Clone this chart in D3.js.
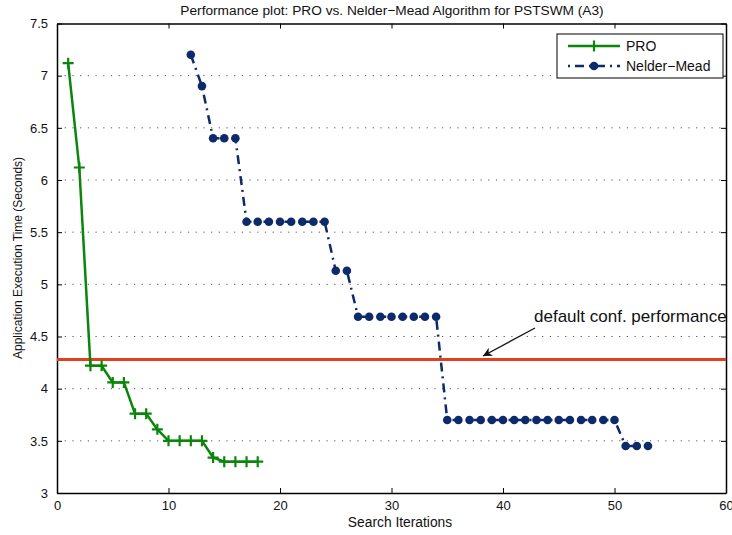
<!DOCTYPE html>
<html><head><meta charset="utf-8">
<script src="https://cdn.jsdelivr.net/npm/d3@7"></script>
<style>body{margin:0;background:#fff;} text{font-family:"Liberation Sans",Arial,sans-serif;}</style>
</head><body>
<svg id="c" width="732" height="535"></svg>
<script>
const proX = [1,2,3,4,5,6,7,8,9,10,11,12,13,14,15,16,17,18];
const proY = [7.12,6.12,4.22,4.22,4.06,4.06,3.76,3.76,3.61,3.50,3.50,3.50,3.50,3.34,3.30,3.30,3.30,3.30];
const nmX = [12,13,14,15,16,17,18,19,20,21,22,23,24,25,26,27,28,29,30,31,32,33,34,35,36,37,38,39,40,41,42,43,44,45,46,47,48,49,50,51,52,53];
const nmY = [7.2,6.9,6.4,6.4,6.4,5.6,5.6,5.6,5.6,5.6,5.6,5.6,5.6,5.13,5.13,4.69,4.69,4.69,4.69,4.69,4.69,4.69,4.69,3.70,3.70,3.70,3.70,3.70,3.70,3.70,3.70,3.70,3.70,3.70,3.70,3.70,3.70,3.70,3.70,3.45,3.45,3.45];
const defaultPerf = 4.28;
const xTicks = [0,10,20,30,40,50,60];
const yTicks = [3,3.5,4,4.5,5,5.5,6,6.5,7,7.5];
const seriesNames = ["PRO","Nelder\u2212Mead"];
const titleText = "Performance plot: PRO vs. Nelder\u2212Mead Algorithm for PSTSWM (A3)";
const xLabel = "Search Iterations";
const yLabel = "Application Execution Time (Seconds)";
const annotText = "default conf. performance";

const L=57, R=726, T=23.5, B=493;
const svg = d3.select("#c");
const x = d3.scaleLinear().domain([0,60]).range([L,R]);
const y = d3.scaleLinear().domain([3,7.5]).range([B,T]);
const green="#0b850b", navy="#0d2a6b", red="#e2401c";

// grid
svg.append("g").selectAll("line").data(yTicks.filter(v=>v>3&&v<7.5)).join("line")
  .attr("x1",L).attr("x2",R).attr("y1",d=>y(d)).attr("y2",d=>y(d))
  .attr("stroke","#555").attr("stroke-width",1).attr("stroke-dasharray","1.2,6.5");

// axes
const fmt = d=>String(d);
const gx = svg.append("g").attr("transform",`translate(0,${B})`)
  .call(d3.axisBottom(x).tickValues(xTicks).tickFormat(fmt).tickSizeInner(-5).tickSizeOuter(0).tickPadding(9));
const gxt = svg.append("g").attr("transform",`translate(0,${T})`)
  .call(d3.axisTop(x).tickValues(xTicks).tickFormat("").tickSizeInner(-5).tickSizeOuter(0));
const gy = svg.append("g").attr("transform",`translate(${L},0)`)
  .call(d3.axisLeft(y).tickValues(yTicks).tickFormat(fmt).tickSizeInner(-5).tickSizeOuter(0).tickPadding(9));
const gyr = svg.append("g").attr("transform",`translate(${R},0)`)
  .call(d3.axisRight(y).tickValues(yTicks).tickFormat("").tickSizeInner(-5).tickSizeOuter(0));
[gx,gxt,gy,gyr].forEach(g=>{
  g.select(".domain").attr("stroke","#000").attr("stroke-width",1.5);
  g.selectAll(".tick line").attr("stroke","#000");
  g.selectAll("text").attr("font-size",13).attr("fill","#111").style("font-family","Liberation Sans, Arial, sans-serif");
});
gx.selectAll("text").attr("dy","0.6em");

// red default line
svg.append("line").attr("x1",L).attr("x2",R).attr("y1",y(defaultPerf)).attr("y2",y(defaultPerf))
  .attr("stroke",red).attr("stroke-width",3);

// PRO series
const proData = proX.map((v,i)=>[v,proY[i]]);
const line = d3.line().x(d=>x(d[0])).y(d=>y(d[1]));
svg.append("path").datum(proData).attr("d",line).attr("fill","none").attr("stroke",green).attr("stroke-width",2.5);
svg.append("g").selectAll("path").data(proData).join("path")
  .attr("transform",d=>`translate(${x(d[0])},${y(d[1])})`)
  .attr("d","M-5.5,0H5.5M0,-5.5V5.5").attr("stroke",green).attr("stroke-width",2.2).attr("fill","none");

// Nelder-Mead
const nmData = nmX.map((v,i)=>[v,nmY[i]]);
svg.append("path").datum(nmData).attr("d",line).attr("fill","none").attr("stroke",navy).attr("stroke-width",2.5)
  .attr("stroke-dasharray","9,5,2,5");
svg.append("g").selectAll("circle").data(nmData).join("circle")
  .attr("cx",d=>x(d[0])).attr("cy",d=>y(d[1])).attr("r",4.3).attr("fill",navy);

// annotation
svg.append("text").attr("x",534).attr("y",322).attr("font-size",17).attr("fill","#111").text(annotText);
svg.append("defs").append("marker").attr("id","ah").attr("viewBox","0 0 10 10").attr("refX",10).attr("refY",5)
  .attr("markerWidth",14).attr("markerHeight",9).attr("markerUnits","userSpaceOnUse").attr("orient","auto")
  .append("path").attr("d","M0,0L10,5L0,10L3,5Z").attr("fill","#111");
svg.append("line").attr("x1",535).attr("y1",328).attr("x2",483).attr("y2",356)
  .attr("stroke","#111").attr("stroke-width",1.2).attr("marker-end","url(#ah)");

// legend
const lg = svg.append("g");
lg.append("rect").attr("x",557).attr("y",34).attr("width",166).attr("height",44).attr("fill","#fff").attr("stroke","#000").attr("stroke-width",1);
lg.append("line").attr("x1",568).attr("x2",620).attr("y1",46).attr("y2",46).attr("stroke",green).attr("stroke-width",2.5);
lg.append("path").attr("transform","translate(594,46)").attr("d","M-5.5,0H5.5M0,-5.5V5.5").attr("stroke",green).attr("stroke-width",2.2);
lg.append("line").attr("x1",568).attr("x2",620).attr("y1",66).attr("y2",66).attr("stroke",navy).attr("stroke-width",2.5).attr("stroke-dasharray","2,5,9,5");
lg.append("circle").attr("cx",594).attr("cy",66).attr("r",4.3).attr("fill",navy);
lg.append("text").attr("x",626).attr("y",51).attr("font-size",14).attr("fill","#111").text(seriesNames[0]);
lg.append("text").attr("x",626).attr("y",71).attr("font-size",14).attr("fill","#111").text(seriesNames[1]);

// titles
svg.append("text").attr("x",392).attr("y",15).attr("text-anchor","middle").attr("font-size",13.7).attr("fill","#111").text(titleText);
svg.append("text").attr("x",400).attr("y",527).attr("text-anchor","middle").attr("font-size",13.8).attr("fill","#111").text(xLabel);
svg.append("text").attr("transform","translate(22,258) rotate(-90)").attr("text-anchor","middle").attr("font-size",12).attr("fill","#111").text(yLabel);
</script>
</body></html>
